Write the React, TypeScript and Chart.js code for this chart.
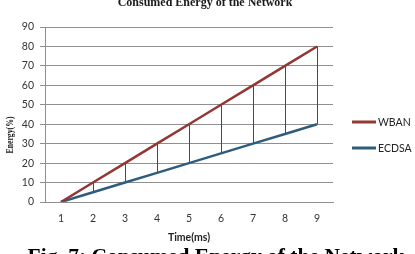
import React, { useEffect, useRef } from "react";
import { Chart, registerables } from "chart.js";

Chart.register(...registerables);

const categories = ["1", "2", "3", "4", "5", "6", "7", "8", "9"];
const wbanValues = [0, 10, 20, 30, 40, 50, 60, 70, 80];
const ecdsaValues = [0, 5, 10, 15, 20, 25, 30, 35, 40];
const seriesNames = ["WBAN", "ECDSA"];
const seriesColors = ["#943634", "#2E5C7E"];
const yMin = 0;
const yMax = 90;
const yStep = 10;
const chartTitle = "Consumed Energy of the Network";
const captionText = "Fig. 7: Consumed Energy of the Network";
const yTitle = "Energy(%)";
const xTitle = "Time(ms)";

const W = 415;
const H = 254;

const dropLinesPlugin = {
  id: "dropLines",
  beforeDatasetsDraw(chart: any) {
    const a = chart.getDatasetMeta(0);
    const b = chart.getDatasetMeta(1);
    const ctx = chart.ctx;
    ctx.save();
    ctx.strokeStyle = "#4a4a4a";
    ctx.lineWidth = 1;
    for (let i = 0; i < a.data.length; i++) {
      const p = a.data[i];
      const q = b.data[i];
      const x = Math.round(p.x) + 0.5;
      ctx.beginPath();
      ctx.moveTo(x, p.y);
      ctx.lineTo(x, q.y);
      ctx.stroke();
    }
    ctx.restore();
  },
};

const textPlugin = {
  id: "texts",
  afterDraw(chart: any) {
    const ctx = chart.ctx;
    const area = chart.chartArea;
    ctx.save();
    ctx.fillStyle = "#1a1a1a";
    // top title (cut off)
    ctx.font = 'bold 12px "Liberation Serif"';
    ctx.textAlign = "center";
    ctx.textBaseline = "alphabetic";
    ctx.fillText(chartTitle, (area.left + area.right) / 2 + 16, 6);
    // y axis title
    ctx.save();
    ctx.translate(10, 135);
    ctx.rotate(-Math.PI / 2);
    ctx.font = 'bold 10px "Liberation Serif"';
    ctx.textAlign = "center";
    ctx.textBaseline = "middle";
    ctx.fillText(yTitle, 0, 0, 37);
    ctx.restore();
    // caption
    ctx.font = 'bold 21.5px "Liberation Serif"';
    ctx.textAlign = "center";
    ctx.textBaseline = "alphabetic";
    ctx.fillStyle = "#000";
    ctx.fillText(captionText, 216, 263);
    // legend
    const ds = chart.data.datasets;
    const lx = area.right + 19;
    const ys = [122, 148];
    ctx.font = '10.5px Lato';
    ctx.textAlign = "left";
    ctx.textBaseline = "middle";
    for (let i = 0; i < ds.length; i++) {
      ctx.strokeStyle = ds[i].borderColor;
      ctx.lineWidth = 3;
      ctx.beginPath();
      ctx.moveTo(lx, ys[i]);
      ctx.lineTo(lx + 24, ys[i]);
      ctx.stroke();
      ctx.fillStyle = "#222";
      ctx.fillText(ds[i].label, lx + 26, ys[i] + 0.5);
    }
    ctx.restore();
  },
};

export default function App() {
  const ref = useRef<HTMLCanvasElement | null>(null);
  useEffect(() => {
    if (!ref.current) return;
    const chart = new Chart(ref.current, {
      type: "line",
      data: {
        labels: categories,
        datasets: [
          {
            label: seriesNames[0],
            data: wbanValues,
            borderColor: seriesColors[0],
            backgroundColor: seriesColors[0],
            borderWidth: 2.5,
            pointRadius: 0,
            tension: 0,
          },
          {
            label: seriesNames[1],
            data: ecdsaValues,
            borderColor: seriesColors[1],
            backgroundColor: seriesColors[1],
            borderWidth: 2.5,
            pointRadius: 0,
            tension: 0,
          },
        ],
      },
      options: {
        responsive: false,
        animation: false,
        events: [],
        layout: { padding: { left: 0, top: 27, right: W - 333, bottom: 0 } },
        plugins: {
          legend: { display: false },
          title: { display: false },
          tooltip: { enabled: false },
        },
        scales: {
          x: {
            offset: true,
            grid: { display: false, drawTicks: false },
            border: { display: true, color: "#8f8f8f", width: 1 },
            ticks: {
              color: "#333",
              font: { family: "Lato", size: 10.5 },
              padding: 10,
              maxRotation: 0,
            },
            title: {
              display: true,
              text: xTitle,
              color: "#222",
              font: { family: "Lato", size: 10.5, weight: "bold" },
              padding: { top: 0, bottom: 10 },
            },
            afterFit(scale: any) {
              scale.height = H - 202;
            },
          },
          y: {
            min: yMin,
            max: yMax,
            ticks: {
              stepSize: yStep,
              color: "#333",
              font: { family: "Lato", size: 10.5 },
              padding: 6,
            },
            grid: { color: "#8f8f8f", lineWidth: 1, tickLength: 5 },
            border: { display: true, color: "#8f8f8f", width: 1 },
            afterFit(scale: any) {
              scale.width = 45;
            },
          },
        },
      },
      plugins: [dropLinesPlugin, textPlugin],
    });
    return () => chart.destroy();
  }, []);
  return (
    <div
      style={{
        position: "fixed",
        left: 0,
        top: 0,
        width: W,
        height: H,
        overflow: "hidden",
        background: "#fff",
      }}
    >
      <canvas ref={ref} width={W} height={H} style={{ display: "block" }} />
    </div>
  );
}
